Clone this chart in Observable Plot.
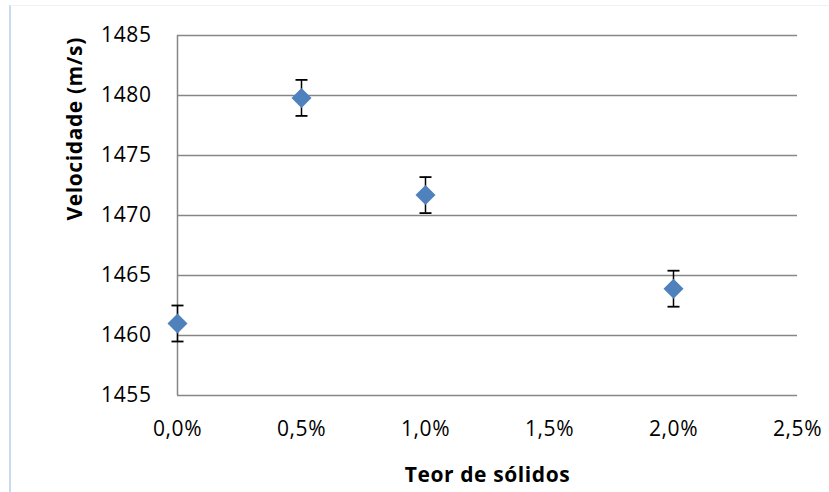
<!DOCTYPE html>
<html>
<head>
<meta charset="utf-8">
<script src="https://cdn.jsdelivr.net/npm/d3@7"></script>
<script src="https://cdn.jsdelivr.net/npm/@observablehq/plot@0.6"></script>
<style>
  html, body { margin: 0; padding: 0; background: #fff; }
  #wrap { position: relative; width: 829px; height: 492px; overflow: hidden; }
  #frame { position: absolute; left: 9px; top: 5px; right: -10px; bottom: -10px;
           border-left: 2px solid #c9daf0; border-top: 1px solid #eef3fa; pointer-events: none; }
  #wrap svg text { letter-spacing: 0.6px; }
</style>
</head>
<body>
<div id="wrap"><div id="frame"></div></div>
<script>
// Data
const solids = [0.000, 0.005, 0.010, 0.020];          // Teor de sólidos (fraction)
const velocity = [1461.0, 1479.8, 1471.7, 1463.9];    // Velocidade (m/s)
const errors = [1.5, 1.5, 1.5, 1.5];                   // error bar half-length (m/s)
const xTicks = [0, 0.005, 0.010, 0.015, 0.020, 0.025];
const yTicks = [1455, 1460, 1465, 1470, 1475, 1480, 1485];
const xTitle = "Teor de sólidos";
const yTitle = "Velocidade (m/s)";

const data = solids.map((s, i) => ({x: s, y: velocity[i], lo: velocity[i] - errors[i], hi: velocity[i] + errors[i]}));

// horizontal cap symbol for the error bars
const capSymbol = {
  draw(context, size) {
    const r = Math.sqrt(size / Math.PI);
    context.moveTo(-r, 0);
    context.lineTo(r, 0);
  }
};

const fmtX = v => (v * 100).toFixed(1).replace(".", ",") + "%";
const fmtY = v => String(v);
const font = "'Open Sans', 'DejaVu Sans', sans-serif";

const chart = Plot.plot({
  width: 829,
  height: 492,
  marginLeft: 177,
  marginRight: 32,
  marginTop: 35,
  marginBottom: 97,
  style: {fontFamily: font, fontSize: "21px", color: "#000", background: "transparent"},
  x: {domain: [0, 0.025], ticks: xTicks, tickFormat: fmtX},
  y: {domain: [1455, 1485], ticks: yTicks, tickFormat: fmtY},
  marks: [
    Plot.ruleY(yTicks, {stroke: "#868686", strokeWidth: 1.5}),
    Plot.ruleX([0], {stroke: "#868686", strokeWidth: 1.5}),
    Plot.axisX({ticks: xTicks, tickFormat: fmtX, tickSize: 0, tickPadding: 26, label: null, fontSize: 21}),
    Plot.axisY({ticks: yTicks, tickFormat: fmtY, tickSize: 0, tickPadding: 26, label: null, fontSize: 21}),
    Plot.ruleX(data, {x: "x", y1: "lo", y2: "hi", stroke: "#000", strokeWidth: 1.5}),
    Plot.dot(data, {x: "x", y: "lo", symbol: capSymbol, r: 6, stroke: "#000", strokeWidth: 1.8, fill: "none"}),
    Plot.dot(data, {x: "x", y: "hi", symbol: capSymbol, r: 6, stroke: "#000", strokeWidth: 1.8, fill: "none"}),
    Plot.dot(data, {x: "x", y: "y", symbol: "diamond2", r: 9, fill: "#4F81BD", stroke: "none"}),
    Plot.text([xTitle], {frameAnchor: "bottom", dy: 80, lineAnchor: "middle", fontWeight: "bold", fontSize: 21, fill: "#000"}),
    Plot.text([yTitle], {frameAnchor: "left", dx: -102, dy: 5, rotate: -90, lineAnchor: "middle", fontWeight: "bold", fontSize: 21, fill: "#000"})
  ]
});
document.getElementById("wrap").appendChild(chart);
chart.style.position = "absolute";
chart.style.left = "0";
chart.style.top = "0";
</script>
</body>
</html>
